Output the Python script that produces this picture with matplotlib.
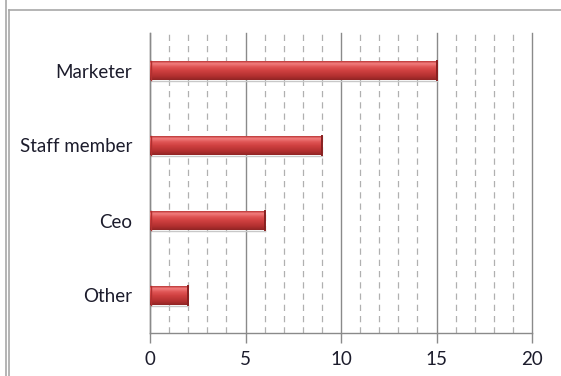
import numpy as np
import matplotlib.pyplot as plt
from matplotlib.colors import LinearSegmentedColormap
from matplotlib.lines import Line2D

# Respondents by role
roles = ['Marketer', 'Staff member', 'Ceo', 'Other']
counts = [15, 9, 6, 2]

plt.rcParams['font.family'] = ['Lato', 'DejaVu Sans']

fig = plt.figure(figsize=(5.61, 3.76), dpi=100)
ax = fig.add_axes([150 / 561, 1 - 333 / 376, 382 / 561, 300 / 376])

y = np.arange(len(roles))[::-1]
bars = ax.barh(y, counts, height=0.25, color='none', edgecolor='none', zorder=3)

# shaded red fill for each bar (light top, dark bottom)
cmap = LinearSegmentedColormap.from_list(
    'bar', [(0.0, '#902424'), (0.2, '#b23030'), (0.5, '#d04040'),
            (0.7, '#e05656'), (0.88, '#f27e7e'), (1.0, '#bc3838')])
grad = np.linspace(0, 1, 64).reshape(-1, 1)
for b in bars:
    x0, y0 = b.get_x(), b.get_y()
    w, h = b.get_width(), b.get_height()
    im = ax.imshow(grad, cmap=cmap, aspect='auto', origin='lower',
                   extent=(x0, x0 + w, y0, y0 + h), zorder=3)
    im.set_clip_path(b)
    # darker end caps
    ax.plot([x0 + w, x0 + w], [y0, y0 + h], color='#882020', lw=1.4, zorder=4)
    ax.plot([x0 + 0.04, x0 + 0.04], [y0, y0 + h], color='#b03030', lw=1.0, zorder=4)
    # soft shadow under the bar
    ax.plot([x0, x0 + w], [y0 - 0.012, y0 - 0.012], color='#c8c8c8', lw=1.0, zorder=2)

ax.set_xlim(0, 20)
ax.set_ylim(-0.5, len(roles) - 0.5)
ax.set_xticks([0, 5, 10, 15, 20])
ax.set_xticks(np.arange(0, 21, 1), minor=True)
ax.set_yticks(y)
ax.set_yticklabels(roles)

ax.grid(axis='x', which='major', color='#8a8a8a', lw=1.0, zorder=1)
ax.grid(axis='x', which='minor', color='#b0b0b0', lw=0.9, ls=(0, (5, 4)), zorder=1)
ax.set_axisbelow(True)
for gl in ax.get_xgridlines():
    gl.set_clip_on(False)

for s in ['top', 'right']:
    ax.spines[s].set_visible(False)
for s in ['left', 'bottom']:
    ax.spines[s].set_color('#8a8a8a')
    ax.spines[s].set_linewidth(1.0)

ax.tick_params(axis='x', which='major', length=7, color='#8a8a8a', width=1.0,
               labelsize=13.5, labelcolor='#1c1c2c', pad=6)
ax.tick_params(axis='x', which='minor', length=0)
ax.tick_params(axis='y', length=0, labelsize=13.5, labelcolor='#1c1c2c', pad=13)

# outer frame lines
fig.add_artist(Line2D([5.5 / 561, 5.5 / 561], [0, 1], color='#a8a8a8', lw=1.2))
fig.add_artist(Line2D([9 / 561, 9 / 561], [0, 1 - 10 / 376], color='#a8a8a8', lw=1.2))
fig.add_artist(Line2D([9 / 561, 1], [1 - 10 / 376, 1 - 10 / 376], color='#a8a8a8', lw=1.2))

fig.savefig('out.png', dpi=100)
